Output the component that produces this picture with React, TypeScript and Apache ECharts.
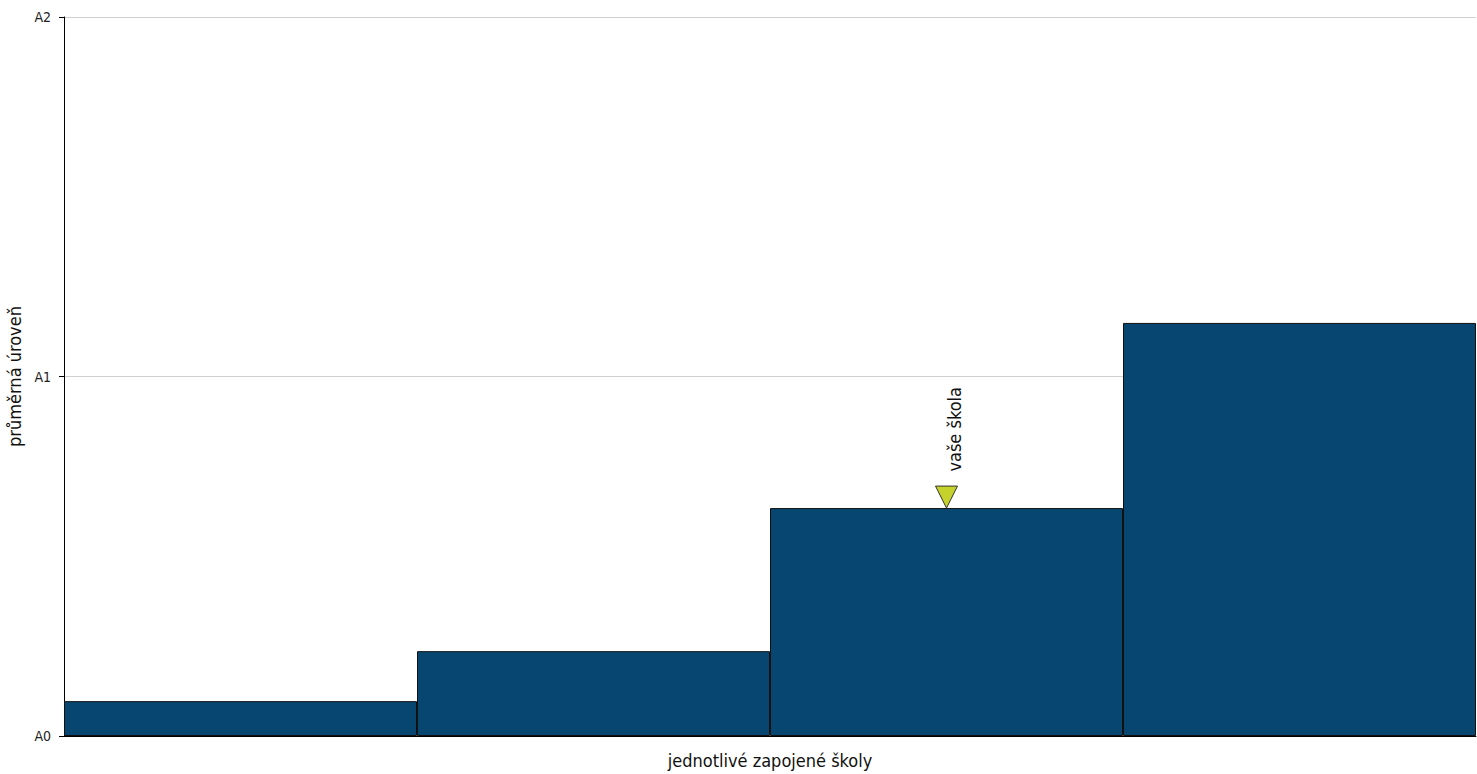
import React, { useEffect, useRef } from "react";
import * as echarts from "echarts";

const schools = ["1", "2", "3", "4"];
const levels = [0.097, 0.236, 0.634, 1.149];
const yourSchoolIndex = 2;
const yTickLabels = ["A0", "A1", "A2"];

const FONT = "'Liberation Sans Narrow', 'DejaVu Sans Condensed', 'Noto Sans', sans-serif";

export default function App() {
  const ref = useRef<HTMLDivElement>(null);
  useEffect(() => {
    const chart = echarts.init(ref.current!, null, { renderer: "svg" });
    chart.setOption({
      animation: false,
      grid: { left: 64, right: 1, top: 17, bottom: 38, containLabel: false, outerBoundsMode: "none" },
      xAxis: {
        type: "category",
        data: schools,
        boundaryGap: true,
        axisLine: { show: true, lineStyle: { color: "#000", width: 1 } },
        axisTick: { show: false },
        axisLabel: { show: false },
        name: "jednotlivé zapojené školy",
        nameLocation: "middle",
        nameGap: 15,
        nameTextStyle: { fontFamily: FONT, fontSize: 18, color: "#111" },
      },
      yAxis: {
        type: "value",
        min: 0,
        max: 2,
        interval: 1,
        axisLine: { show: true, lineStyle: { color: "#000", width: 1 } },
        axisTick: { show: true, length: 5, lineStyle: { color: "#000" } },
        axisLabel: {
          formatter: (v: number) => yTickLabels[Math.round(v)] ?? "",
          fontFamily: FONT,
          fontSize: 14,
          color: "#222",
          margin: 13,
        },
        splitLine: { show: true, lineStyle: { color: "#cfcfcf", width: 1 } },
        name: "průměrná úroveň",
        nameLocation: "middle",
        nameGap: 33,
        nameTextStyle: { fontFamily: FONT, fontSize: 18, color: "#111" },
      },
      series: [
        {
          type: "bar",
          data: levels,
          barWidth: "100%",
          barCategoryGap: 0,
          itemStyle: { color: "#074670", borderColor: "#111", borderWidth: 1 },
          markPoint: {
            symbol: "triangle",
            symbolRotate: 180,
            symbolSize: [22, 22],
            symbolOffset: [0, -11],
            itemStyle: { color: "#c6d22c", borderColor: "#333", borderWidth: 1 },
            label: {
              show: true,
              formatter: "vaše škola",
              rotate: 90,
              position: [19, -14],
              align: "left",
              verticalAlign: "middle",
              fontFamily: FONT,
              fontSize: 18,
              color: "#111",
            },
            data: [{ coord: [yourSchoolIndex, levels[yourSchoolIndex]] }],
          },
        },
      ],
    });
    return () => chart.dispose();
  }, []);
  return (
    <div
      ref={ref}
      style={{ position: "absolute", left: 0, top: 0, width: 1477, height: 774, background: "#fff" }}
    />
  );
}
